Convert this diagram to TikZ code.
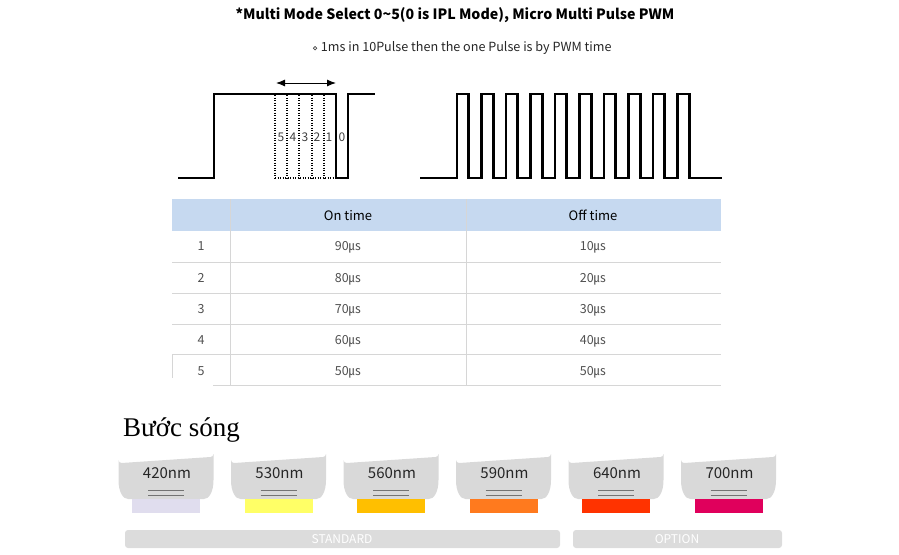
\documentclass[tikz,border=0pt]{standalone}
\usepackage{fontspec}
\setmainfont{Noto Sans CJK KR}
\newfontfamily\vnserif{Liberation Serif}
\newfontfamily\dejavu{DejaVu Sans}
\usetikzlibrary{arrows.meta}
\definecolor{hdrblue}{HTML}{C6D9F0}
\definecolor{gridgray}{HTML}{D6D6D6}
\definecolor{numgray}{HTML}{505050}
\definecolor{headgray}{HTML}{D9D9D9}
\definecolor{barbg}{HTML}{DCDCDC}
\definecolor{c420}{HTML}{E0DDEE}
\definecolor{c530}{HTML}{FFFF66}
\definecolor{c560}{HTML}{FFBF00}
\definecolor{c590}{HTML}{FF7A1E}
\definecolor{c640}{HTML}{FF3300}
\definecolor{c700}{HTML}{E0005C}
\tikzset{
  pulse/.style={line width=2.6pt, line join=miter},
  dotline/.style={line width=1.4pt, dash pattern=on 1.4pt off 1.1pt},
  digit/.style={font=\fontsize{12}{13}\selectfont, text=black!75, inner sep=0pt},
  cell/.style={font=\fontsize{12.5}{14}\selectfont, text=numgray, inner sep=0pt, anchor=base},
  hcell/.style={font=\fontsize{13}{15}\selectfont, text=black, inner sep=0pt, anchor=base},
  grid/.style={draw=gridgray, line width=1pt},
  wl/.style={font=\fontsize{15}{17}\selectfont, text=black!85, inner sep=0pt},
  bartext/.style={font=\fontsize{12}{14}\selectfont, text=white, inner sep=0pt}
}
\begin{document}
\begin{tikzpicture}[x=1pt,y=-1pt]
\useasboundingbox (0,0) rectangle (899,554);
% titles
\node[font=\bfseries\fontsize{14.2}{16}\selectfont, inner sep=0pt] (title) at (455,15) {*Multi Mode Select 0\textasciitilde5(0 is IPL Mode), Micro Multi Pulse PWM};
\node[font=\fontsize{12.6}{14}\selectfont, text=black!85, inner sep=0pt] (sub) at (462,48) {{\dejavu\fontsize{9}{10}\selectfont ⋄} 1ms in 10Pulse then the one Pulse is by PWM time};
% left pulse
\draw[pulse] (178,178) -- (214,178) -- (214,94) -- (336,94) -- (336,178) -- (348,178) -- (348,94) -- (375,94);
\foreach \xx in {275,287,299,312,324}{
  \draw[dotline] (\xx,95) -- (\xx,178);
}
\draw[dotline] (275,178) -- (336,178);
\foreach \xx/\d in {281/5,293/4,305/3,317/2,329/1,342/0}{
  \node[digit] (d\d) at (\xx,137) {\d};
}
\coordinate (arL) at (276,83);
\coordinate (arR) at (336,83);
\draw[line width=1pt, {Latex[length=9pt,width=7pt]}-{Latex[length=9pt,width=7pt]}] (arL) -- (arR);
% right pulse train
\draw[pulse] (420,178) foreach \i in {0,...,9}{ -- ({457+24.5*\i},178) -- ({457+24.5*\i},94) -- ({468.7+24.5*\i},94) -- ({468.7+24.5*\i},178) } -- (722,178);
% table
\fill[hdrblue] (172,199) rectangle (721,231);
\foreach \yy in {262,293,324,354}{
  \draw[grid] (172,\yy) -- (721,\yy);
}
\draw[grid] (213,385) -- (721,385);
\draw[grid] (172,354) -- (172,378);
\draw[grid] (230,199) -- (230,385);
\draw[grid] (466,199) -- (466,385);
\node[hcell] (hon) at (348,220.5) {On time};
\node[hcell] (hoff) at (593,220.5) {Off time};
\foreach \r/\on/\off/\yy in {1/90/10/246, 2/80/20/278, 3/70/30/309, 4/60/40/340, 5/50/50/371}{
  \node[cell] (n\r) at (201,\yy+4.5) {\r};
  \node[cell] (on\r) at (348,\yy+4.5) {\on㎲};
  \node[cell] (off\r) at (593,\yy+4.5) {\off㎲};
}
% wavelength heading
\node[font=\vnserif\fontsize{27}{30}\selectfont, anchor=base west, inner sep=0pt] (bs) at (123,436) {Bước sóng};
% filter heads
\foreach \c/\w/\col in {166/420/c420, 278.5/530/c530, 391/560/c560, 503.5/590/c590, 616/640/c640, 728.5/700/c700}{
  \fill[headgray] (\c-47.5,460) arc[start angle=180, end angle=90, radius=3] -- (\c+44.5,457) arc[start angle=90, end angle=0, radius=3] -- (\c+47.5,480) .. controls (\c+47.5,492) and (\c+43,499) .. (\c+38,499) -- (\c-38,499) .. controls (\c-43,499) and (\c-47.5,492) .. (\c-47.5,480) -- cycle;
  \fill[\col] (\c-34,499) rectangle (\c+34,513);
  \draw[black!55, line width=0.7pt] (\c-18,490) -- (\c+18,490);
  \draw[black!55, line width=0.7pt] (\c-18,495) -- (\c+18,495);
  \node[wl] (w\w) at (\c+1,473) {\w nm};
}
% bars
\fill[barbg, rounded corners=3pt] (125,530) rectangle (560,548);
\fill[barbg, rounded corners=3pt] (573,530) rectangle (782,548);
\node[bartext] (std) at (342,539.5) {STANDARD};
\node[bartext] (opt) at (677,539.5) {OPTION};
\end{tikzpicture}
\end{document}
